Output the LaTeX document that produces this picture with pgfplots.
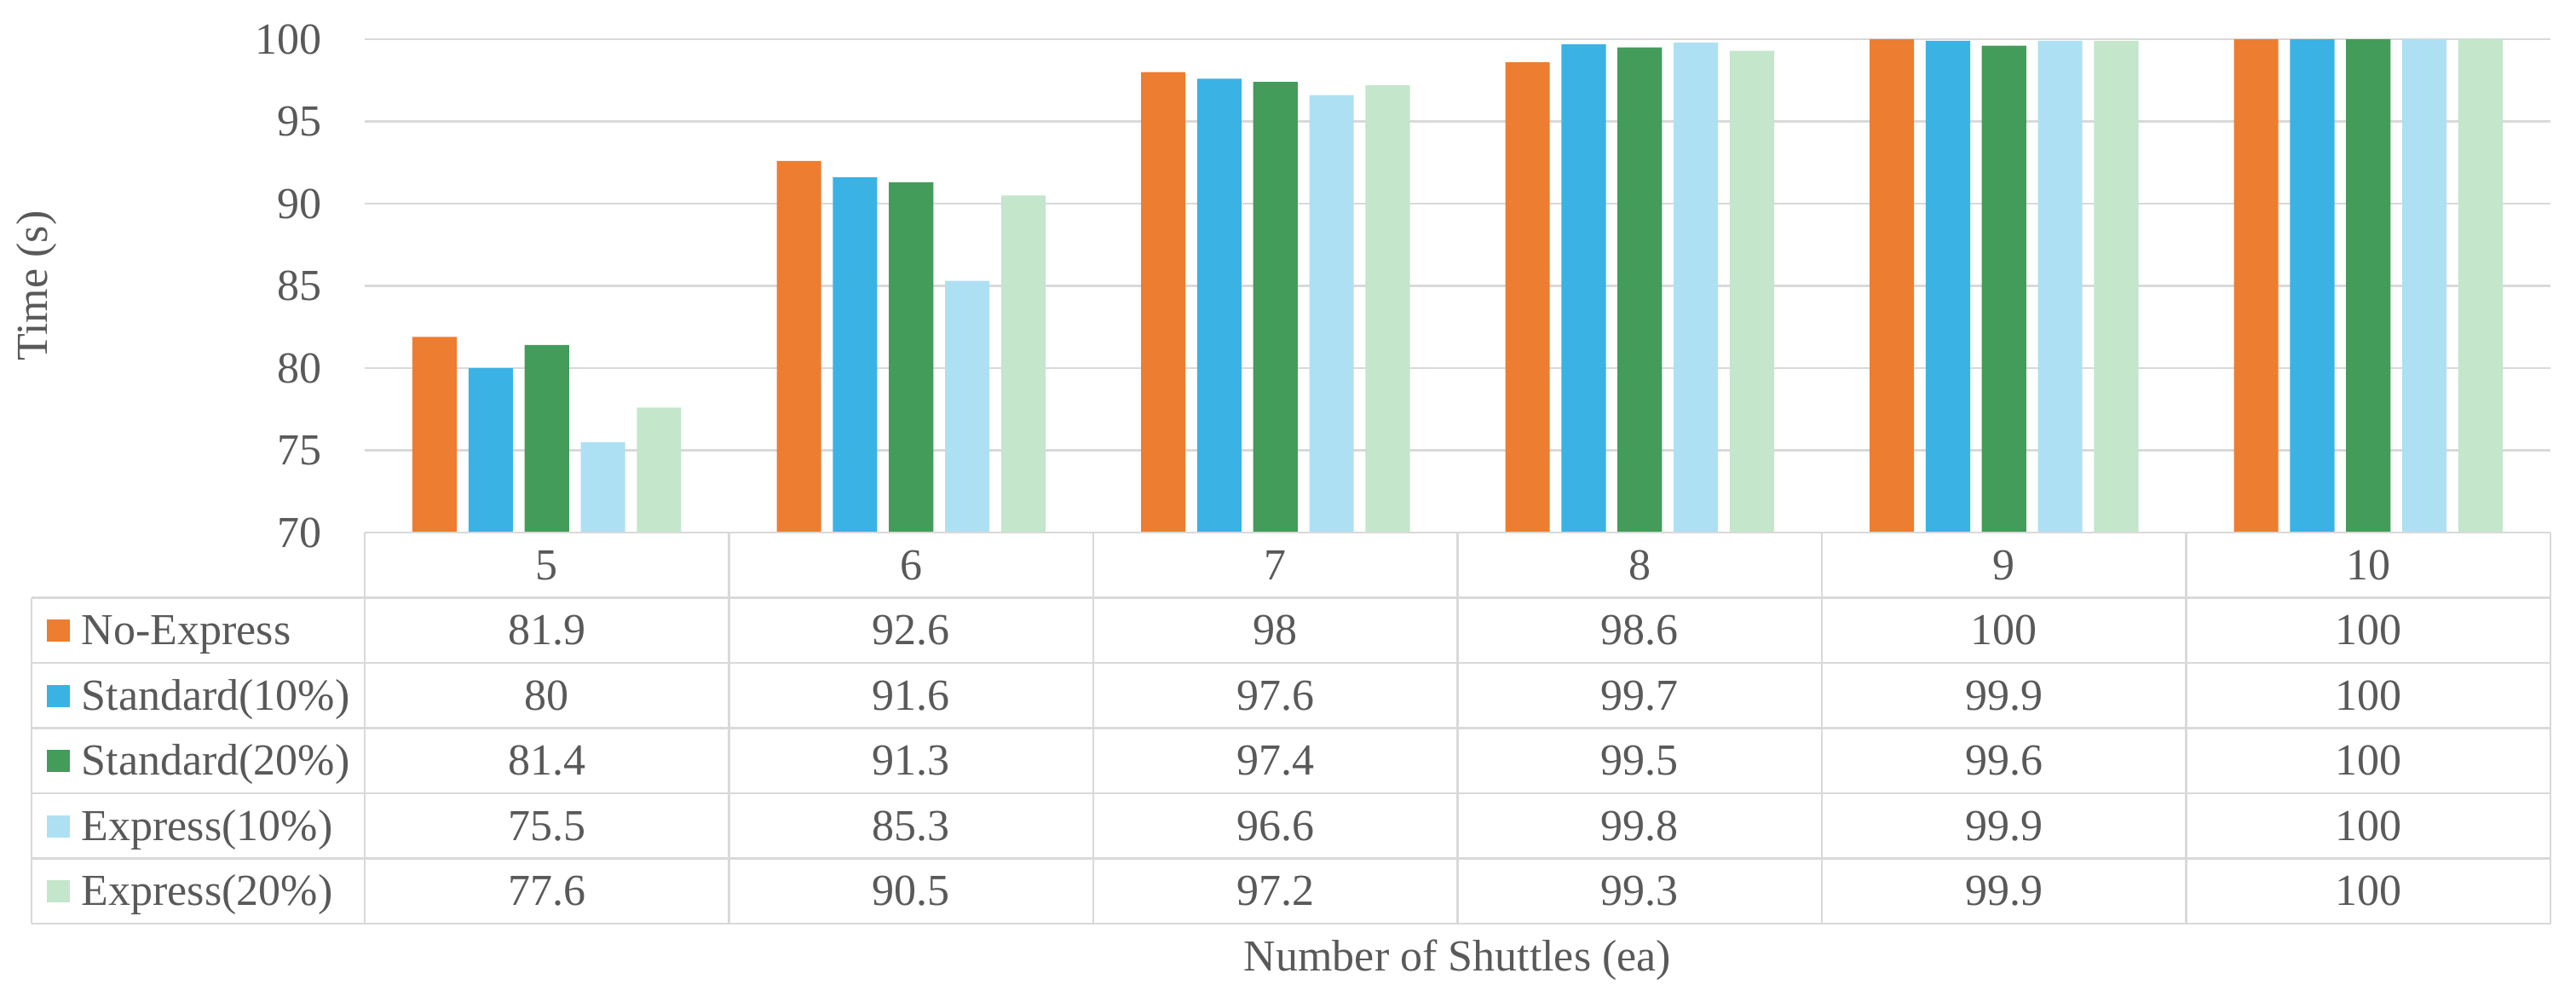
\documentclass[border=0pt]{standalone}
\usepackage{pgfplots}
\usepackage{pgfplotstable}
\pgfplotsset{compat=1.18}
\usepackage{fontspec}
\setmainfont{Liberation Serif}

\definecolor{cNo}{HTML}{ED7D31}
\definecolor{cSa}{HTML}{3BB2E4}
\definecolor{cSb}{HTML}{439C5A}
\definecolor{cEa}{HTML}{AEE0F4}
\definecolor{cEb}{HTML}{C4E6CB}
\definecolor{txt}{HTML}{595959}
\definecolor{rule}{HTML}{D9D9D9}

% time per number of shuttles
\pgfplotstableread{
n   noexp std10 std20 exp10 exp20
5   81.9  80    81.4  75.5  77.6
6   92.6  91.6  91.3  85.3  90.5
7   98    97.6  97.4  96.6  97.2
8   98.6  99.7  99.5  99.8  99.3
9   100   99.9  99.6  99.9  99.9
10  100   100   100   100   100
}\shuttles

\begin{document}
\begin{tikzpicture}[font=\fontsize{13}{15}\selectfont, every node/.append style={text=txt}]
\begin{axis}[
    at={(0,0)}, anchor=south west,
    x=106.875pt, y=4.825pt,
    xmin=-0.5, xmax=5.5, ymin=70, ymax=100,
    ybar, bar width=0.122,
    ytick={70,75,...,100},
    xtick=\empty,
    ymajorgrids,
    grid style={rule, line width=0.6pt},
    axis line style={draw=none},
    major tick length=0pt,
    yticklabel style={xshift=-9pt, text=txt, /pgf/number format/assume math mode=true},
    ylabel={Time (s)},
    xlabel={Number of Shuttles (ea)},
    every axis y label/.style={at={(axis description cs:-0.150,0.5)}, rotate=90, anchor=center},
    every axis x label/.style={at={(axis description cs:0.5,-0.867)}, anchor=center},
    clip=false,
]
\addplot[fill=cNo, draw=none, bar shift=-0.308] table[x expr=\coordindex, y=noexp] {\shuttles};
\addplot[fill=cSa, draw=none, bar shift=-0.154] table[x expr=\coordindex, y=std10] {\shuttles};
\addplot[fill=cSb, draw=none, bar shift=0] table[x expr=\coordindex, y=std20] {\shuttles};
\addplot[fill=cEa, draw=none, bar shift=0.154] table[x expr=\coordindex, y=exp10] {\shuttles};
\addplot[fill=cEb, draw=none, bar shift=0.308] table[x expr=\coordindex, y=exp20] {\shuttles};
\end{axis}

% data table under the plot
\def\cw{106.875pt}
\def\rh{19.125pt}
\draw[rule, line width=0.6pt] (0,0) -- (641.25pt,0);
\foreach \k in {1,...,6}
  \draw[rule, line width=0.6pt] (-97.75pt,-\k*\rh) -- (641.25pt,-\k*\rh);
\foreach \c in {0,...,6}
  \draw[rule, line width=0.6pt] (\c*\cw,0) -- (\c*\cw,-6*\rh);
\draw[rule, line width=0.6pt] (-97.75pt,-\rh) -- (-97.75pt,-6*\rh);

\foreach \i in {0,...,5} {
  \pgfplotstablegetelem{\i}{n}\of\shuttles
  \node[anchor=base] at ({(\i+0.5)*\cw}, {-0.5*\rh-4.3pt}) {\pgfplotsretval};
}
\foreach \r/\col/\name/\c in {1/noexp/No-Express/cNo, 2/std10/Standard(10\%)/cSa,
    3/std20/Standard(20\%)/cSb, 4/exp10/Express(10\%)/cEa, 5/exp20/Express(20\%)/cEb} {
  \fill[\c] (-93.25pt, {-(\r+0.5)*\rh-3.4pt}) rectangle ++(6.75pt,6.5pt);
  \node[anchor=base west, inner sep=0pt] at (-83.25pt, {-(\r+0.5)*\rh-4.3pt}) {\name};
  \foreach \i in {0,...,5} {
    \pgfplotstablegetelem{\i}{\col}\of\shuttles
    \node[anchor=base] at ({(\i+0.5)*\cw}, {-(\r+0.5)*\rh-4.3pt}) {\pgfplotsretval};
  }
}

\path (-107pt,-139.25pt) rectangle (648.75pt,156.25pt);
\end{tikzpicture}
\end{document}
